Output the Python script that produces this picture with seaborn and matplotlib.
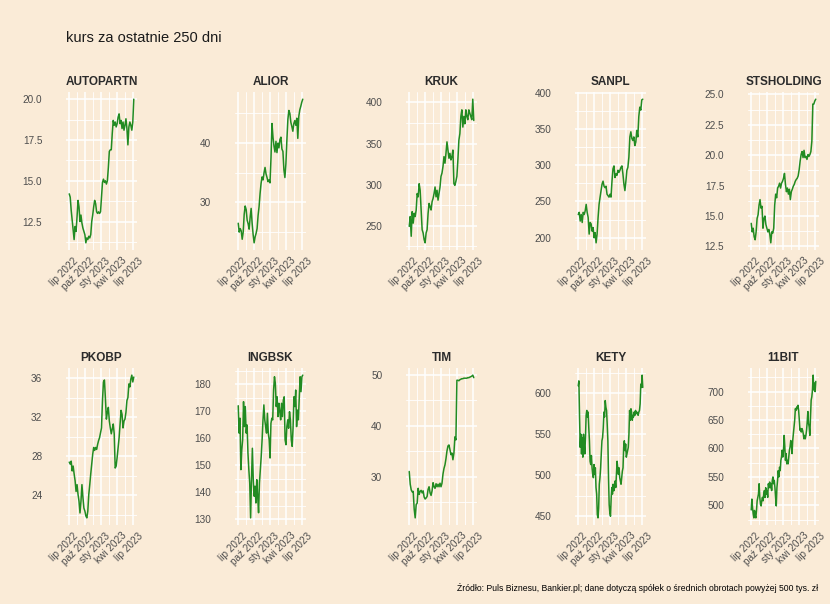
import matplotlib
matplotlib.use("Agg")
import matplotlib.pyplot as plt
import matplotlib.transforms as mtransforms
import matplotlib.dates as mdates
import seaborn as sns
import pandas as pd
import numpy as np

# ---------------- data ----------------
names = ["AUTOPARTN", "ALIOR", "KRUK", "SANPL", "STSHOLDING",
         "PKOBP", "INGBSK", "TIM", "KETY", "11BIT"]

autopartn = [14.2, 14.0, 13.2, 12.6, 12.0, 11.4, 12.2, 11.9, 12.8, 13.8, 13.4, 12.5, 12.9, 12.4,
             12.1, 11.9, 11.7, 11.2, 11.5, 11.4, 11.6, 11.5, 11.7, 12.5, 12.9, 13.4, 13.8, 13.6,
             13.1, 13.0, 13.1, 13.0, 13.1, 14.0, 14.9, 15.1, 14.9, 15.0, 14.8, 15.0, 15.8, 16.8,
             16.9, 16.9, 17.9, 18.7, 18.4, 18.6, 18.3, 18.5, 18.9, 19.1, 18.5, 18.7, 18.2, 18.6,
             18.1, 18.4, 18.8, 18.2, 17.2, 18.3, 18.6, 18.4, 18.1, 18.6, 20.0]

alior = [26.5, 25.0, 25.6, 25.2, 23.8, 25.0, 28.0, 29.4, 28.8, 27.0, 26.4, 25.5, 27.5, 29.0,
         26.5, 24.6, 23.2, 24.2, 24.8, 25.6, 27.8, 29.3, 31.5, 33.2, 34.3, 33.8, 35.0, 35.9,
         34.8, 34.2, 33.5, 33.8, 33.3, 37.5, 43.3, 41.0, 39.5, 38.5, 40.3, 38.4, 40.0, 39.2,
         40.6, 41.0, 39.0, 38.6, 35.5, 34.2, 36.5, 40.5, 44.0, 45.5, 45.0, 43.5, 42.8, 42.0,
         43.3, 43.8, 43.0, 44.2, 40.8, 44.5, 45.6, 46.2, 46.9, 47.4]

kruk = [249, 261, 237, 267, 253, 265, 261, 269, 289, 285, 301, 293, 269, 245, 241, 233, 229,
        241, 245, 265, 277, 273, 269, 279, 283, 289, 297, 285, 293, 281, 289, 297, 310, 314,
        322, 334, 326, 338, 352, 342, 332, 338, 330, 334, 342, 301, 299, 304, 310, 330, 354,
        362, 383, 391, 370, 383, 374, 391, 383, 379, 391, 387, 383, 379, 404, 378]

sanpl = [232, 235, 223, 232, 221, 235, 232, 237, 246, 235, 228, 205, 221, 219, 209, 214, 200,
         207, 193, 205, 228, 246, 256, 265, 274, 278, 271, 269, 271, 260, 258, 256, 260, 256,
         278, 295, 299, 283, 288, 286, 293, 290, 293, 297, 299, 288, 274, 265, 278, 293, 297,
         311, 339, 346, 337, 334, 339, 327, 332, 348, 339, 367, 380, 376, 390, 391]

stsholding = [14.4, 13.7, 14.0, 13.3, 13.05, 13.7, 14.8, 15.1, 15.9, 16.35, 15.65, 15.8, 14.0,
              14.8, 15.0, 14.3, 14.0, 13.7, 13.9, 13.5, 12.8, 13.7, 13.6, 14.0, 15.9, 16.8, 16.5,
              17.3, 17.45, 17.7, 17.3, 17.7, 17.85, 18.1, 18.5, 17.6, 17.0, 17.3, 16.8, 17.2,
              16.35, 17.0, 17.2, 17.45, 17.6, 17.85, 18.0, 18.1, 18.3, 18.8, 19.5, 20.05, 20.3,
              19.8, 20.4, 19.8, 19.9, 19.65, 20.05, 19.9, 20.05, 20.3, 21.15, 24.2, 24.2, 24.45,
              24.6]

pkobp = [27.4, 27.2, 27.5, 26.5, 27.0, 26.2, 25.5, 24.4, 25.1, 24.1, 23.4, 22.2, 23.4, 25.1,
         23.8, 22.7, 22.4, 21.9, 21.7, 22.4, 24.1, 25.1, 26.2, 27.2, 28.2, 28.9, 28.6, 28.9,
         28.7, 29.2, 29.6, 29.9, 30.4, 30.9, 33.7, 35.6, 35.8, 33.9, 31.8, 32.5, 33.0, 31.6,
         30.9, 30.3, 30.8, 31.3, 30.3, 26.8, 27.0, 27.9, 28.9, 29.9, 31.3, 32.7, 32.3, 30.9,
         31.6, 31.8, 32.5, 33.7, 34.0, 35.4, 35.1, 35.9, 36.3, 35.6, 36.1]

ingbsk = [172.0, 161.9, 167.4, 148.4, 155.7, 159.4, 173.5, 164.3, 171.7, 161.9, 164.9, 154.5,
          148.4, 143.5, 130.6, 144.7, 156.3, 144.7, 138.6, 142.3, 136.1, 144.7, 138.6, 132.5,
          143.5, 148.4, 153.3, 159.4, 166.8, 172.3, 166.8, 164.3, 161.9, 169.2, 161.9, 159.4,
          152.7, 165.5, 167.4, 166.8, 177.8, 182.7, 180.2, 171.7, 175.3, 168.0, 172.9, 169.8,
          166.8, 172.9, 168.0, 174.1, 175.3, 159.4, 157.6, 164.3, 166.8, 163.7, 169.8, 166.8,
          159.4, 157.0, 163.7, 175.3, 171.7, 177.8, 164.3, 170.4, 166.8, 174.7, 182.7, 177.2,
          182.7, 183.3]

tim = [31.0, 28.5, 27.4, 27.0, 27.1, 23.6, 21.9, 24.5, 24.8, 27.7, 26.5, 27.1, 27.3, 26.8,
       27.2, 26.0, 25.6, 25.8, 26.1, 27.5, 28.0, 26.8, 26.3, 27.2, 28.8, 28.0, 27.7, 28.6,
       28.0, 28.5, 28.0, 28.7, 28.0, 28.7, 30.5, 31.6, 32.3, 33.5, 35.0, 36.0, 36.2, 35.3,
       34.3, 34.6, 33.3, 34.6, 37.8, 37.2, 48.9, 48.9, 48.8, 49.0, 49.1, 49.2, 49.2, 49.3,
       49.3, 49.3, 49.3, 49.4, 49.4, 49.5, 49.6, 49.7, 49.9, 49.4]

kety = [609, 615, 571, 534, 550, 526, 546, 522, 550, 538, 526, 546, 573, 579, 571, 577, 558,
        542, 517, 513, 524, 509, 501, 497, 513, 501, 509, 485, 477, 452, 448, 460, 489, 497,
        509, 526, 542, 546, 558, 577, 571, 591, 583, 579, 562, 542, 497, 464, 454, 450, 472,
        485, 477, 489, 481, 485, 493, 485, 501, 517, 509, 501, 509, 497, 493, 489, 497, 505,
        509, 534, 542, 530, 538, 522, 526, 530, 534, 550, 579, 567, 581, 577, 567, 573, 571,
        577, 573, 579, 575, 577, 575, 573, 577, 579, 587, 611, 607, 622, 607]

bit11 = [492, 511, 496, 485, 478, 491, 482, 478, 491, 508, 514, 520, 538, 514, 502, 499, 508,
         514, 508, 520, 526, 514, 531, 520, 526, 514, 538, 531, 541, 531, 538, 526, 544, 550,
         538, 544, 531, 514, 499, 531, 544, 561, 550, 567, 561, 579, 585, 597, 585, 597, 623,
         603, 579, 591, 573, 579, 573, 585, 597, 603, 614, 608, 591, 614, 626, 638, 650, 670,
         667, 673, 670, 676, 667, 650, 632, 635, 629, 635, 632, 626, 617, 623, 617, 623, 632,
         647, 665, 644, 638, 623, 656, 685, 691, 703, 729, 703, 715, 700, 718]

series = [autopartn, alior, kruk, sanpl, stsholding, pkobp, ingbsk, tim, kety, bit11]

y_ticks = [
    [12.5, 15.0, 17.5, 20.0],
    [30, 40],
    [250, 300, 350, 400],
    [200, 250, 300, 350, 400],
    [12.5, 15.0, 17.5, 20.0, 22.5, 25.0],
    [24, 28, 32, 36],
    [130, 140, 150, 160, 170, 180],
    [30, 40, 50],
    [450, 500, 550, 600],
    [500, 550, 600, 650, 700],
]
y_tick_labels = [
    ["12.5", "15.0", "17.5", "20.0"],
    ["30", "40"],
    ["250", "300", "350", "400"],
    ["200", "250", "300", "350", "400"],
    ["12.5", "15.0", "17.5", "20.0", "22.5", "25.0"],
    ["24", "28", "32", "36"],
    ["130", "140", "150", "160", "170", "180"],
    ["30", "40", "50"],
    ["450", "500", "550", "600"],
    ["500", "550", "600", "650", "700"],
]

x_tick_dates = ["2022-07-01", "2022-10-01", "2023-01-01", "2023-04-01", "2023-07-01"]
x_tick_labels = ["lip 2022", "paź 2022", "sty 2023", "kwi 2023", "lip 2023"]
x_minor_dates = ["2022-08-16", "2022-11-16", "2023-02-15", "2023-05-16"]
start_date, end_date = "2022-07-04", "2023-07-03"

title = "kurs za ostatnie 250 dni"
caption = ("Źródło: Puls Biznesu, Bankier.pl; dane dotyczą spółek o średnich "
           "obrotach powyżej 500 tys. zł")

# ---------------- style ----------------
BG = "#FAEBD7"
sns.set_theme(style="white")
plt.rcParams["font.family"] = ["Liberation Sans", "DejaVu Sans"]
plt.rcParams["axes.xmargin"] = 0.05
plt.rcParams["axes.ymargin"] = 0.05

W, H = 830, 604
fig = plt.figure(figsize=(W / 100, H / 100), dpi=100, facecolor=BG)

lefts = [66, 235, 406, 575, 748]
tops = [92, 368]
heights = [158, 157]
pw = 71

xt = pd.to_datetime(x_tick_dates)
xm = pd.to_datetime(x_minor_dates)

for i, (name, vals) in enumerate(zip(names, series)):
    r, c = divmod(i, 5)
    l, t, h = lefts[c], tops[r], heights[r]
    ax = fig.add_axes([l / W, 1 - (t + h) / H, pw / W, h / H])
    ax.set_facecolor(BG)
    dates = pd.date_range(start_date, end_date, periods=len(vals))
    df = pd.DataFrame({"date": dates, "kurs": vals})
    sns.lineplot(data=df, x="date", y="kurs", ax=ax, color="#228B22",
                 linewidth=1.1, estimator=None)
    ax.set_xlabel("")
    ax.set_ylabel("")
    for s in ax.spines.values():
        s.set_visible(False)

    xlim = ax.get_xlim()
    ylim = ax.get_ylim()

    yt = y_ticks[i]
    ax.set_yticks(yt)
    ax.set_yticklabels(y_tick_labels[i])
    step = yt[1] - yt[0]
    ymin_minor = [yt[0] - step / 2] + [v + step / 2 for v in yt]
    ax.set_yticks(ymin_minor, minor=True)

    ax.set_xticks(mdates.date2num(xt))
    ax.set_xticklabels(x_tick_labels)
    ax.set_xticks(mdates.date2num(xm), minor=True)

    ax.set_xlim(xlim)
    ax.set_ylim(ylim)

    ax.grid(True, which="major", color="white", linewidth=1.1)
    ax.grid(True, which="minor", color="white", linewidth=0.6)
    ax.set_axisbelow(True)

    ax.tick_params(axis="both", which="both", length=0)
    ax.tick_params(axis="y", pad=17, labelsize=7.2, labelcolor="#4D4D4D")
    ax.tick_params(axis="x", pad=4, labelsize=7.2, labelcolor="#4D4D4D")
    off = mtransforms.ScaledTranslation(4 / 100, 0, fig.dpi_scale_trans)
    for lab in ax.get_xticklabels():
        lab.set_rotation(45)
        lab.set_ha("right")
        lab.set_va("top")
        lab.set_rotation_mode("anchor")
        lab.set_transform(lab.get_transform() + off)

    ax.set_title(name, fontsize=8.5, fontweight="bold", color="#2B2B2B", pad=5)

fig.text(66 / W, 1 - 38 / H, title, fontsize=10.5, color="#1A1A1A",
         ha="left", va="center")
fig.text(818 / W, 1 - 588 / H, caption, fontsize=6.2, color="black",
         ha="right", va="center")

fig.savefig("out.png", dpi=100, facecolor=BG)
